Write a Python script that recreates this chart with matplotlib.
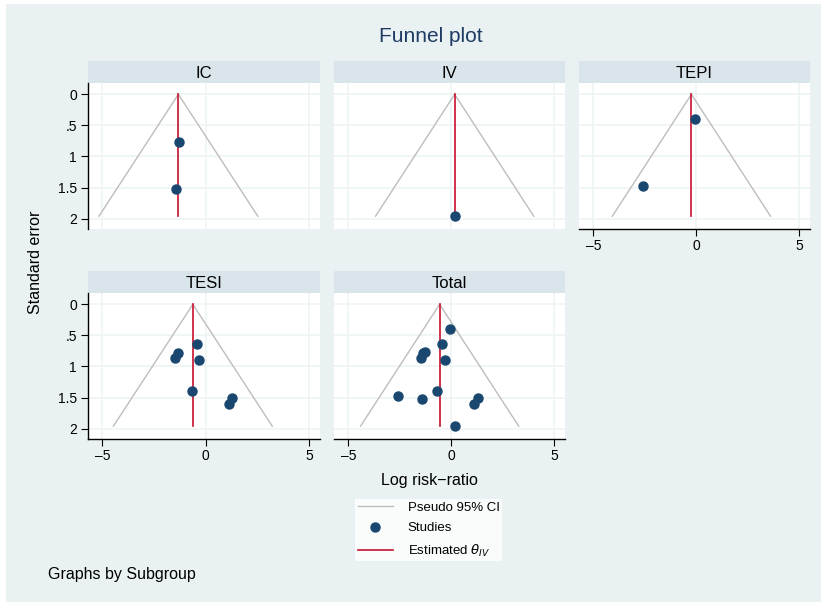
import matplotlib
matplotlib.use("Agg")
import matplotlib.pyplot as plt
from matplotlib.patches import Rectangle
from matplotlib.lines import Line2D

plt.rcParams['font.family'] = ['Liberation Sans', 'DejaVu Sans']

# data
groups = ["IC", "IV", "TEPI", "TESI", "Total"]
ic_x = [-1.29, -1.45]
ic_se = [0.76, 1.52]
iv_x = [0.16]
iv_se = [1.96]
tepi_x = [-0.07, -2.59]
tepi_se = [0.40, 1.47]
tesi_x = [-0.44, -1.37, -1.49, -0.32, -0.68, 1.28, 1.10]
tesi_se = [0.635, 0.78, 0.866, 0.90, 1.39, 1.51, 1.60]
total_x = ic_x + iv_x + tepi_x + tesi_x
total_se = ic_se + iv_se + tepi_se + tesi_se
theta = [-1.33, 0.16, -0.24, -0.63, -0.57]
xs = [ic_x, iv_x, tepi_x, tesi_x, total_x]
ses = [ic_se, iv_se, tepi_se, tesi_se, total_se]
se_max = max(total_se)
xticks = [-5, 0, 5]
yticks = [0, 0.5, 1, 1.5, 2]
ytick_labels = ["0", ".5", "1", "1.5", "2"]

BG = "#EAF1F3"
HEAD = "#D9E5EA"
NAVY = "#1A476F"
RED = "#C8102E"
GRAY = "#BDBDBD"
GRID = "#EEF4F5"

W, H = 827, 606
fig = plt.figure(figsize=(W / 100, H / 100), dpi=100, facecolor="white")


def rect(x0, y0, x1, y1):
    return [x0 / W, 1 - y1 / H, (x1 - x0) / W, (y1 - y0) / H]


fig.patches.append(Rectangle((6 / W, 1 - 602 / H), 815 / W, 598 / H,
                             transform=fig.transFigure, facecolor=BG,
                             edgecolor="none", zorder=-10))

cols = [(88, 320), (334, 565), (579, 810)]
rows = [(61, 83, 229), (271, 293, 439)]
slots = [(0, 0), (0, 1), (0, 2), (1, 0), (1, 1)]
has_xaxis = [False, False, True, True, True]

for i, name in enumerate(groups):
    r, c = slots[i]
    hy0, py0, py1 = rows[r]
    x0, x1 = cols[c]
    # strip header
    hax = fig.add_axes(rect(x0, hy0, x1, py0))
    hax.set_facecolor(HEAD)
    hax.set_xticks([])
    hax.set_yticks([])
    for s in hax.spines.values():
        s.set_visible(False)
    hax.text(0.5, 0.45, name, ha="center", va="center", fontsize=12,
             transform=hax.transAxes)

    ax = fig.add_axes(rect(x0, py0, x1, py1))
    ax.set_facecolor("white")
    ax.set_xlim(-5.7, 5.52)
    ax.set_ylim(2.166, -0.182)
    ax.set_xticks(xticks)
    ax.set_yticks(yticks)
    ax.grid(True, color=GRID, lw=1.2, zorder=0)
    for s in ax.spines.values():
        s.set_visible(False)

    t = theta[i]
    ax.plot([t - 1.96 * se_max, t, t + 1.96 * se_max], [se_max, 0, se_max],
            color=GRAY, lw=1.0, zorder=2)
    ax.plot([t, t], [0, se_max], color=RED, lw=1.2, zorder=3)
    ax.plot(xs[i], ses[i], "o", color=NAVY, markersize=6.5, zorder=4)

    if c == 0:
        ax.spines["left"].set_visible(True)
        ax.spines["left"].set_linewidth(1.0)
        ax.set_yticklabels(ytick_labels)
        ax.tick_params(axis="y", length=5, width=0.8, labelsize=10, pad=3)
    else:
        ax.tick_params(axis="y", length=0, labelleft=False)

    if has_xaxis[i]:
        ax.spines["bottom"].set_visible(True)
        ax.spines["bottom"].set_linewidth(1.0)
        ax.set_xticklabels(["\u20135", "0", "5"])
        ax.tick_params(axis="x", length=5, width=0.8, labelsize=10, pad=2)
    else:
        ax.tick_params(axis="x", length=0, labelbottom=False)

fig.text(431 / W, 1 - 37 / H, "Funnel plot", ha="center", va="center",
         fontsize=15, color="#1E3B63")
fig.text(35 / W, 1 - 262 / H, "Standard error", ha="center", va="center",
         rotation=90, fontsize=11.5)
fig.text(429 / W, 1 - 481 / H, "Log risk\u2212ratio", ha="center", va="center",
         fontsize=11.5)
fig.text(48 / W, 1 - 575 / H, "Graphs by Subgroup", ha="left", va="center",
         fontsize=11.5)

handles = [Line2D([], [], color=GRAY, lw=1.0),
           Line2D([], [], ls="none", marker="o", color=NAVY, markersize=6.5),
           Line2D([], [], color=RED, lw=1.2)]
labels = ["Pseudo 95% CI", "Studies", r"Estimated $\theta_{IV}$"]
leg = fig.legend(handles, labels, loc="upper left",
                 bbox_to_anchor=(355 / W, 1 - 499 / H), fontsize=9.5,
                 frameon=True, fancybox=False, handlelength=2.7,
                 handletextpad=1.1, labelspacing=0.62, borderpad=0.2,
                 borderaxespad=0)
leg.get_frame().set_facecolor("white")
leg.get_frame().set_edgecolor("none")

plt.savefig("out.png", dpi=100, facecolor="white")
